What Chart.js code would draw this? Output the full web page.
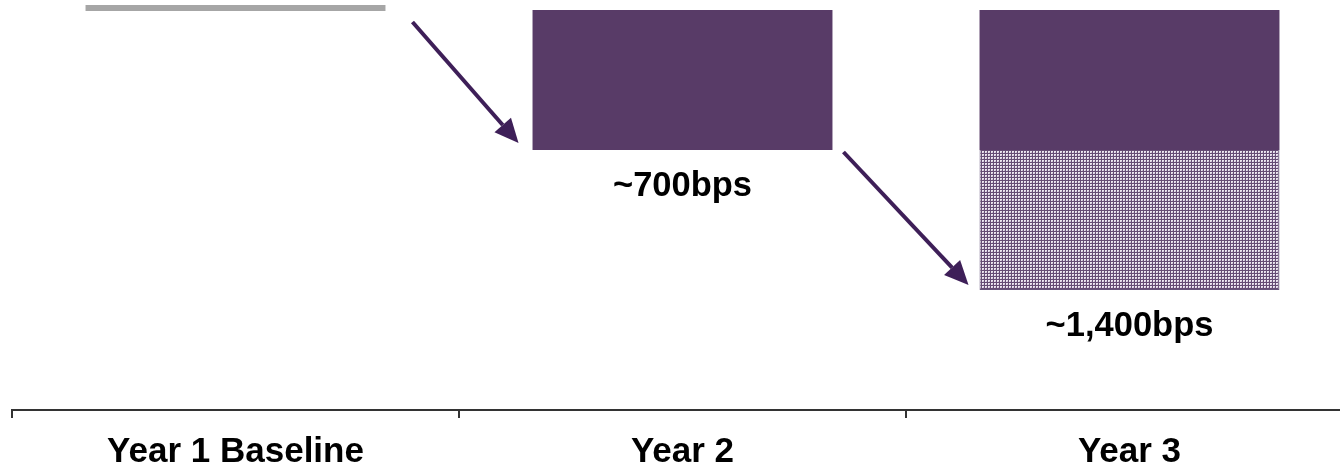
<!DOCTYPE html>
<html>
<head>
<meta charset="utf-8">
<script src="https://cdn.jsdelivr.net/npm/chart.js@4.4.1/dist/chart.umd.min.js"></script>
<style>
  html, body { margin: 0; padding: 0; background: #ffffff; overflow: hidden; }
  #wrap { width: 1353px; height: 467px; position: relative; }
</style>
</head>
<body>
<div id="wrap"><canvas id="chart"></canvas></div>
<script>
// Categories and step values (basis points of improvement)
const categories = ['Year 1 Baseline', 'Year 2', 'Year 3'];
const baseline = [0, null, null];
const firstStep = [null, 700, 700];
const secondStep = [null, null, 700];
const totalLabels = ['', '~700bps', '~1,400bps'];

const PURPLE = '#583b67';
const ARROW = '#3e1f58';
const GREY = '#a6a6a6';
const FONT = "'Liberation Sans', Arial, Helvetica, sans-serif";

// Fine lavender grid texture used for the second step
function makePattern() {
  const t = document.createElement('canvas');
  t.width = 3; t.height = 3;
  const c = t.getContext('2d');
  c.fillStyle = '#ebe5ef';
  c.fillRect(0, 0, 3, 3);
  c.fillStyle = '#654c74';
  c.fillRect(0, 0, 3, 1);
  c.fillRect(0, 0, 1, 3);
  c.fillStyle = '#c9bdd1';
  c.fillRect(2, 2, 1, 1);
  return document.getElementById('chart').getContext('2d').createPattern(t, 'repeat');
}

const totals = categories.map((_, i) => (baseline[i] || 0) + (firstStep[i] || 0) + (secondStep[i] || 0));

const baselineBars = baseline.map(v => v == null ? null : [v - 25, v + 5]);
const firstBars = firstStep.map(v => v == null ? null : [0, v]);
const secondBars = secondStep.map((v, i) => v == null ? null : [firstStep[i], firstStep[i] + v]);

// Arrows linking each step to the next one (pixel offsets from bar edges)
const arrowStyle = [
  { from: 0, to: 1, sdx: 27, sdy: 12, edx: 14, edy: 7 },
  { from: 1, to: 2, sdx: 11, sdy: 2, edx: 11, edy: 5 }
];

const arrowPlugin = {
  id: 'stepArrows',
  afterDatasetsDraw(chart) {
    const ctx = chart.ctx;
    const x = chart.scales.x, y = chart.scales.y;
    const el = chart.getDatasetMeta(1).data[1];
    const half = el.width / 2;
    ctx.save();
    ctx.strokeStyle = ARROW;
    ctx.fillStyle = ARROW;
    ctx.lineWidth = 4;
    arrowStyle.forEach(a => {
      const x0 = x.getPixelForValue(a.from) + half + a.sdx;
      const y0 = y.getPixelForValue(totals[a.from]) + a.sdy;
      const x1 = x.getPixelForValue(a.to) - half - a.edx;
      const y1 = y.getPixelForValue(totals[a.to]) - a.edy;
      const ang = Math.atan2(y1 - y0, x1 - x0);
      const head = 24, wing = 11;
      const bx = x1 - head * Math.cos(ang), by = y1 - head * Math.sin(ang);
      ctx.beginPath();
      ctx.moveTo(x0, y0);
      ctx.lineTo(bx, by);
      ctx.stroke();
      ctx.beginPath();
      ctx.moveTo(x1, y1);
      ctx.lineTo(bx + wing * Math.sin(ang), by - wing * Math.cos(ang));
      ctx.lineTo(bx - wing * Math.sin(ang), by + wing * Math.cos(ang));
      ctx.closePath();
      ctx.fill();
    });
    ctx.restore();
  }
};

const labelPlugin = {
  id: 'totalLabels',
  afterDatasetsDraw(chart) {
    const ctx = chart.ctx;
    const x = chart.scales.x, y = chart.scales.y;
    ctx.save();
    ctx.fillStyle = '#000';
    ctx.font = 'bold 34.5px ' + FONT;
    ctx.textAlign = 'center';
    ctx.textBaseline = 'middle';
    totalLabels.forEach((t, i) => {
      if (!t) return;
      ctx.fillText(t, x.getPixelForValue(i), y.getPixelForValue(totals[i]) + 36);
    });
    ctx.restore();
  }
};

const pattern = makePattern();

new Chart(document.getElementById('chart'), {
  type: 'bar',
  data: {
    labels: categories,
    datasets: [
      { data: baselineBars, backgroundColor: GREY, grouped: false, borderWidth: 0 },
      { data: firstBars, backgroundColor: PURPLE, grouped: false, borderWidth: 0 },
      { data: secondBars, backgroundColor: pattern, borderColor: '#66547a', borderWidth: 1, grouped: false }
    ]
  },
  options: {
    responsive: true,
    maintainAspectRatio: false,
    animation: false,
    categoryPercentage: 1,
    barPercentage: 0.671,
    layout: { padding: { left: 12, right: 0, top: 0, bottom: 0 } },
    plugins: { legend: { display: false }, tooltip: { enabled: false } },
    scales: {
      x: {
        afterFit(scale) { scale.height = 57; },
        grid: { display: true, drawOnChartArea: false, drawTicks: true, tickLength: 8, color: '#333', lineWidth: 2, offset: true },
        border: { display: true, color: '#333', width: 2 },
        ticks: {
          color: '#000',
          font: { family: FONT, size: 35, weight: 'bold', lineHeight: 1 },
          padding: 17,
          maxRotation: 0,
          autoSkip: false
        }
      },
      y: { display: false, reverse: true, min: -50, max: 2000 }
    }
  },
  plugins: [arrowPlugin, labelPlugin]
});
</script>
</body>
</html>
